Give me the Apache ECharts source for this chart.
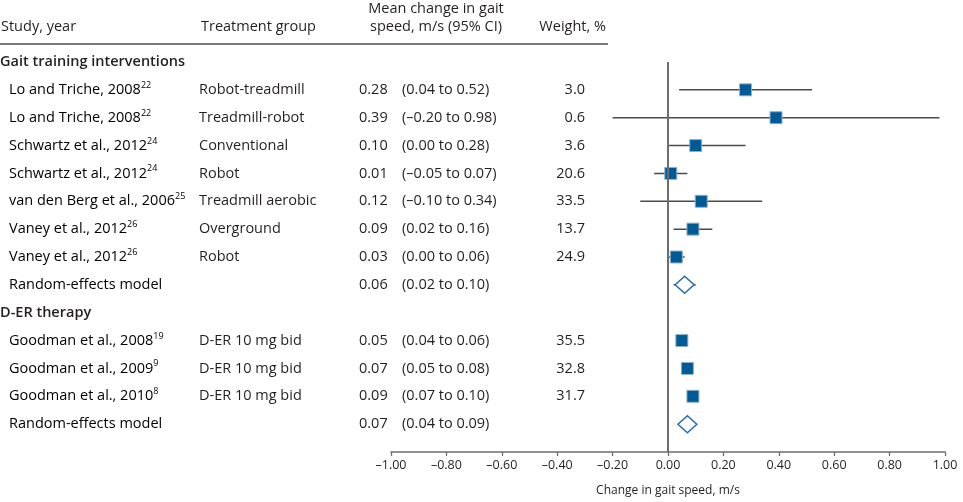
<!DOCTYPE html>
<html>
<head>
<meta charset="utf-8">
<script src="https://cdn.jsdelivr.net/npm/echarts@6/dist/echarts.min.js"></script>
<style>
html,body{margin:0;padding:0;background:#fff;}
#chart{width:963px;height:502px;}
</style>
</head>
<body>
<div id="chart"></div>
<script>
// ---- data ----
var sectionTitles = ['Gait training interventions', 'D-ER therapy'];
var sectionRows = [0, 9];
var studyRows = [1, 2, 3, 4, 5, 6, 7, 8, 10, 11, 12, 13];
var studies = ['Lo and Triche, 2008', 'Lo and Triche, 2008', 'Schwartz et al., 2012', 'Schwartz et al., 2012',
  'van den Berg et al., 2006', 'Vaney et al., 2012', 'Vaney et al., 2012', 'Random-effects model',
  'Goodman et al., 2008', 'Goodman et al., 2009', 'Goodman et al., 2010', 'Random-effects model'];
var refs = ['22', '22', '24', '24', '25', '26', '26', '', '19', '9', '8', ''];
var treatments = ['Robot-treadmill', 'Treadmill-robot', 'Conventional', 'Robot', 'Treadmill aerobic',
  'Overground', 'Robot', '', 'D-ER 10 mg bid', 'D-ER 10 mg bid', 'D-ER 10 mg bid', ''];
var means = [0.28, 0.39, 0.10, 0.01, 0.12, 0.09, 0.03, 0.06, 0.05, 0.07, 0.09, 0.07];
var lowers = [0.04, -0.20, 0.00, -0.05, -0.10, 0.02, 0.00, 0.02, 0.04, 0.05, 0.07, 0.04];
var uppers = [0.52, 0.98, 0.28, 0.07, 0.34, 0.16, 0.06, 0.10, 0.06, 0.08, 0.10, 0.09];
var weights = ['3.0', '0.6', '3.6', '20.6', '33.5', '13.7', '24.9', '', '35.5', '32.8', '31.7', ''];
var isPooled = [false, false, false, false, false, false, false, true, false, false, false, true];

var FONT = '"Open Sans", "Noto Sans", sans-serif';
var TXT = '#231f20';
var FS = 14.5;
function fmt(v) { return (v < 0 ? '\u2013' : '') + Math.abs(v).toFixed(2); }

var squareData = [], diamondData = [], ciData = [], tableData = [];
for (var i = 0; i < studies.length; i++) {
  var pt = [means[i], studyRows[i]];
  if (isPooled[i]) diamondData.push(pt); else squareData.push(pt);
  ciData.push([lowers[i], studyRows[i], uppers[i]]);
  tableData.push([0, studyRows[i], i]);
}
var sectionData = sectionRows.map(function (r, k) { return [0, r, k]; });

function txt(x, y, s, align, weight) {
  return { type: 'text', x: x, y: y, style: { text: s, font: (weight || 'normal') + ' ' + FS + 'px ' + FONT, fill: TXT, align: align || 'left', verticalAlign: 'middle' } };
}

var chart = echarts.init(document.getElementById('chart'));
chart.setOption({
  animation: false,
  backgroundColor: '#fff',
  grid: { left: 391, right: 18, top: 62, bottom: 49 },
  xAxis: {
    type: 'value', min: -1, max: 1, interval: 0.2,
    axisLine: { show: true, onZero: false, lineStyle: { color: '#6d6d6d', width: 1.5 } },
    axisTick: { show: true, length: 4, lineStyle: { color: '#6d6d6d', width: 1.3 } },
    splitLine: { show: false },
    axisLabel: { fontFamily: FONT, fontSize: 12.5, color: TXT, margin: 7, formatter: function (v) { return fmt(v); } },
    name: 'Change in gait speed, m/s', nameLocation: 'middle', nameGap: 33,
    nameTextStyle: { fontFamily: FONT, fontSize: 12, color: TXT }
  },
  yAxis: { type: 'value', inverse: true, min: 0, max: 14, show: false },
  graphic: [
    txt(1, 27, 'Study, year'),
    txt(201, 27, 'Treatment group'),
    txt(436, 9, 'Mean change in gait', 'center'),
    txt(436, 27, 'speed, m/s (95% CI)', 'center'),
    txt(606, 27, 'Weight, %', 'right'),
    { type: 'line', shape: { x1: 0, y1: 44, x2: 608, y2: 44 }, style: { stroke: '#7a7a7a', lineWidth: 2 } }
  ],
  series: [
    {
      type: 'custom', name: 'ci', z: 2, data: ciData,
      renderItem: function (params, api) {
        var a = api.coord([api.value(0), api.value(1)]);
        var b = api.coord([api.value(2), api.value(1)]);
        return { type: 'line', shape: { x1: a[0], y1: a[1], x2: b[0], y2: b[1] },
          style: { stroke: '#4a4a4a', lineWidth: 1.5 } };
      },
      markLine: {
        silent: true, symbol: 'none', label: { show: false },
        lineStyle: { color: '#6d6d6d', width: 2, type: 'solid' },
        data: [{ xAxis: 0 }]
      }
    },
    {
      type: 'scatter', name: 'study', z: 3, symbol: 'rect', symbolSize: 12, data: squareData,
      itemStyle: { color: '#005a94', borderColor: '#8db2cf', borderWidth: 1, opacity: 1 }
    },
    {
      type: 'scatter', name: 'pooled', z: 3, symbol: 'diamond', symbolSize: [19, 17], data: diamondData,
      itemStyle: { color: '#fff', borderColor: '#2b70aa', borderWidth: 1.5, opacity: 1 }
    },
    {
      type: 'custom', name: 'table', z: 4, data: tableData, clip: false,
      renderItem: function (params, api) {
        var idx = api.value(2);
        var y = api.coord([0, api.value(1)])[1];
        var kids = [];
        var studyTxt = refs[idx] ? '{a|' + studies[idx] + '}{s|' + refs[idx] + '}' : '{a|' + studies[idx] + '}';
        kids.push({ type: 'text', x: 9, y: y, style: { text: studyTxt, align: 'left', verticalAlign: 'middle',
          rich: { a: { fontSize: FS, fontFamily: FONT, color: TXT, lineHeight: 18 },
                  s: { fontSize: 9, fontFamily: FONT, color: TXT, lineHeight: 18, verticalAlign: 'top', padding: [0, 0, 6, 0] } } } });
        if (treatments[idx]) kids.push(txt(199, y, treatments[idx]));
        kids.push(txt(359, y, means[idx].toFixed(2)));
        kids.push(txt(402, y, '(' + fmt(lowers[idx]) + ' to ' + fmt(uppers[idx]) + ')'));
        if (weights[idx]) kids.push(txt(585, y, weights[idx], 'right'));
        return { type: 'group', children: kids };
      }
    },
    {
      type: 'custom', name: 'sections', z: 4, data: sectionData, clip: false,
      renderItem: function (params, api) {
        var y = api.coord([0, api.value(1)])[1];
        return txt(0, y, sectionTitles[api.value(2)], 'left', '600');
      }
    }
  ]
});
</script>
</body>
</html>
